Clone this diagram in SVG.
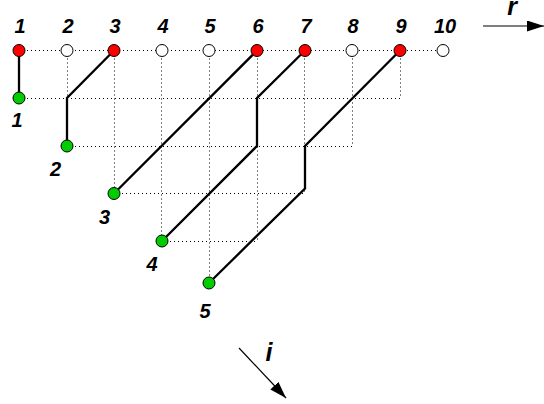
<svg xmlns="http://www.w3.org/2000/svg" width="544" height="404" viewBox="0 0 544 404">
<style>
.grid{stroke:#000;stroke-width:1;stroke-dasharray:1 3;fill:none}
.path{stroke:#000;stroke-width:2.3;fill:none;stroke-linejoin:miter}
.red{fill:#ff0000;stroke:#000;stroke-width:1}
.white{fill:#ffffff;stroke:#000;stroke-width:1}
.green{fill:#00cc00;stroke:#000;stroke-width:1}
.num{font-family:"Liberation Sans",Arial,sans-serif;font-weight:bold;font-style:italic;font-size:20px;text-anchor:middle;fill:#000}
.axis{font-family:"Liberation Sans",Arial,sans-serif;font-weight:bold;font-style:italic;font-size:25px;text-anchor:middle;fill:#000}
.arrow{stroke:#000;stroke-width:1.2;fill:none}
</style>
<defs>
<marker id="ah" viewBox="0 0 17 11" refX="17" refY="5.5" markerWidth="17" markerHeight="11" markerUnits="userSpaceOnUse" orient="auto">
<path d="M0,0 L17,5.5 L0,11 z" fill="#000"/>
</marker>
</defs>
<g id="grid">
<path class="grid" d="M19,50.5 H443 M19,98.5 H400.5 M67,146.5 H352.5 M114,193.5 H305 M162,241.5 H257.5"/>
<path class="grid" d="M67.5,50.5 V98 M114.5,50.5 V193.5 M161.5,50.5 V241 M209.5,50.5 V283 M257.5,50.5 V241 M304.5,50.5 V193.5 M352.5,50.5 V146 M400.5,50.5 V98"/>
</g>
<g id="connectors">
<path class="path" d="M19,50.5 V98"/>
<path class="path" d="M114,50.5 L67,98 V146"/>
<path class="path" d="M257,50.5 L114,193.5"/>
<path class="path" d="M305,50.5 L257,98 V146 L162,241"/>
<path class="path" d="M400,50.5 L305,146 V188.5 L209,283"/>
</g>
<g id="r1"><circle class="red" cx="19" cy="50.5" r="6"/><text class="num" x="20" y="33">1</text></g>
<g id="r2"><circle class="white" cx="67" cy="50.5" r="6"/><text class="num" x="68" y="33">2</text></g>
<g id="r3"><circle class="red" cx="114" cy="50.5" r="6"/><text class="num" x="115" y="33">3</text></g>
<g id="r4"><circle class="white" cx="162" cy="50.5" r="6"/><text class="num" x="163" y="33">4</text></g>
<g id="r5"><circle class="white" cx="209" cy="50.5" r="6"/><text class="num" x="210" y="33">5</text></g>
<g id="r6"><circle class="red" cx="257" cy="50.5" r="6"/><text class="num" x="258" y="33">6</text></g>
<g id="r7"><circle class="red" cx="305" cy="50.5" r="6"/><text class="num" x="306" y="33">7</text></g>
<g id="r8"><circle class="white" cx="352" cy="50.5" r="6"/><text class="num" x="353" y="33">8</text></g>
<g id="r9"><circle class="red" cx="400" cy="50.5" r="6"/><text class="num" x="401" y="33">9</text></g>
<g id="r10"><circle class="white" cx="443" cy="50.5" r="6"/><text class="num" x="445" y="33">10</text></g>
<g id="i1"><circle class="green" cx="19" cy="98" r="6"/><text class="num" x="17" y="127">1</text></g>
<g id="i2"><circle class="green" cx="67" cy="146" r="6"/><text class="num" x="55.5" y="176">2</text></g>
<g id="i3"><circle class="green" cx="114" cy="193.5" r="6"/><text class="num" x="104.5" y="224">3</text></g>
<g id="i4"><circle class="green" cx="162" cy="241" r="6"/><text class="num" x="152" y="271">4</text></g>
<g id="i5"><circle class="green" cx="209" cy="283" r="6"/><text class="num" x="205" y="318">5</text></g>
<g id="axis-r">
<line class="arrow" x1="483" y1="26" x2="544" y2="26" marker-end="url(#ah)"/>
<text class="axis" x="512" y="15">r</text>
</g>
<g id="axis-i">
<line class="arrow" x1="239" y1="348" x2="286" y2="398" marker-end="url(#ah)"/>
<text class="axis" x="269" y="361">i</text>
</g>
</svg>
